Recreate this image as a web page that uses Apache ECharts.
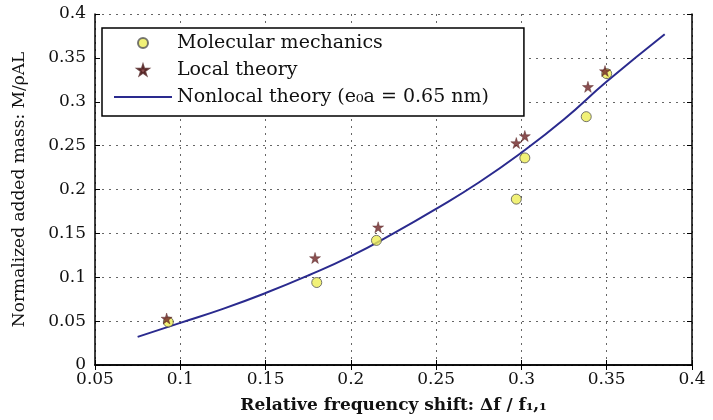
<!DOCTYPE html>
<html>
<head>
<meta charset="utf-8">
<script src="https://cdn.jsdelivr.net/npm/echarts@6/dist/echarts.min.js"></script>
<style>html,body{margin:0;padding:0;background:#fff}#c{width:713px;height:420px}</style>
</head>
<body>
<div id="c"></div>
<script>
var xTicks = [0.05, 0.1, 0.15, 0.2, 0.25, 0.3, 0.35, 0.4];
var yTicks = [0, 0.05, 0.1, 0.15, 0.2, 0.25, 0.3, 0.35, 0.4];

var mmX = [0.093, 0.18, 0.215, 0.297, 0.302, 0.338, 0.35];
var mmY = [0.049, 0.094, 0.142, 0.189, 0.236, 0.283, 0.332];

var localX = [0.092, 0.179, 0.216, 0.297, 0.302, 0.339, 0.349];
var localY = [0.053, 0.122, 0.157, 0.253, 0.261, 0.317, 0.335];

var nlX = [0.075, 0.1, 0.125, 0.15, 0.175, 0.2, 0.225, 0.25, 0.275, 0.3, 0.325, 0.35, 0.384];
var nlY = [0.032, 0.048, 0.064, 0.082, 0.102, 0.124, 0.15, 0.178, 0.208, 0.242, 0.28, 0.323, 0.377];

var names = ['Molecular mechanics', 'Local theory', 'Nonlocal theory (e\u2080a = 0.65 nm)'];

function zip(a, b) { return a.map(function (v, i) { return [v, b[i]]; }); }
function fmt(v) { return String(+v.toFixed(2)); }

var FONT = 'DejaVu Serif';
var starPath = 'path://M50,0 L61,35 L98,35 L68,57 L79,91 L50,70 L21,91 L32,57 L2,35 L39,35 Z';

var chart = echarts.init(document.getElementById('c'), null, {renderer: 'canvas'});
var commonAxisLine = {show: true, lineStyle: {color: '#000', width: 1.5}};
chart.setOption({
  animation: false,
  backgroundColor: '#fff',
  textStyle: {fontFamily: FONT},
  grid: {left: 95, right: 21, top: 14, bottom: 55},
  legend: {
    orient: 'vertical',
    left: 102, top: 28,
    data: [names[0], names[1], {name: names[2], itemStyle: {opacity: 0}}],
    itemWidth: 58, itemHeight: 10, itemGap: 5,
    padding: [4, 35, 8, 11],
    borderColor: '#000', borderWidth: 1.5,
    backgroundColor: '#fff',
    textStyle: {fontFamily: FONT, fontSize: 19, color: '#111', lineHeight: 22}
  },
  xAxis: [{
    type: 'value', min: xTicks[0], max: xTicks[xTicks.length - 1], interval: 0.05,
    name: 'Relative frequency shift: \u0394f / f\u2081,\u2081',
    nameLocation: 'middle', nameGap: 32,
    nameTextStyle: {fontFamily: FONT, fontSize: 17, fontWeight: 'bold', color: '#111'},
    axisLine: commonAxisLine,
    axisTick: {show: true, inside: true, length: 5, lineStyle: {color: '#000'}},
    axisLabel: {fontFamily: FONT, fontSize: 17, color: '#111', margin: 6, formatter: fmt},
    splitLine: {show: true, lineStyle: {color: '#666', type: [2, 5], width: 1}}
  }, {
    type: 'value', position: 'top', min: xTicks[0], max: xTicks[xTicks.length - 1], interval: 0.05,
    axisLine: commonAxisLine,
    axisTick: {show: true, inside: true, length: 5, lineStyle: {color: '#000'}},
    axisLabel: {show: false}, splitLine: {show: false}
  }],
  yAxis: [{
    type: 'value', min: yTicks[0], max: yTicks[yTicks.length - 1], interval: 0.05,
    name: 'Normalized added mass: M/\u03c1AL',
    nameLocation: 'middle', nameGap: 67, nameRotate: 90,
    nameTextStyle: {fontFamily: FONT, fontSize: 17, color: '#111'},
    axisLine: commonAxisLine,
    axisTick: {show: true, inside: true, length: 5, lineStyle: {color: '#000'}},
    axisLabel: {fontFamily: FONT, fontSize: 17, color: '#111', margin: 9, formatter: fmt},
    splitLine: {show: true, lineStyle: {color: '#666', type: [2, 5], width: 1}}
  }, {
    type: 'value', position: 'right', min: yTicks[0], max: yTicks[yTicks.length - 1], interval: 0.05,
    axisLine: commonAxisLine,
    axisTick: {show: true, inside: true, length: 5, lineStyle: {color: '#000'}},
    axisLabel: {show: false}, splitLine: {show: false}
  }],
  series: [{
    name: names[2], type: 'line', smooth: true, showSymbol: false, symbol: 'none',
    data: zip(nlX, nlY), z: 2,
    lineStyle: {color: '#2a2a8e', width: 2}, itemStyle: {color: '#2a2a8e'}
  }, {
    name: names[0], type: 'scatter', symbol: 'circle', symbolSize: 10,
    data: zip(mmX, mmY), z: 3,
    itemStyle: {color: '#eeee55', borderColor: '#555', borderWidth: 1}
  }, {
    name: names[1], type: 'scatter', symbol: starPath, symbolSize: 11,
    data: zip(localX, localY), z: 4,
    itemStyle: {color: '#6e2426', borderColor: '#4a1a1a', borderWidth: 0.5}
  }]
});
</script>
</body>
</html>
